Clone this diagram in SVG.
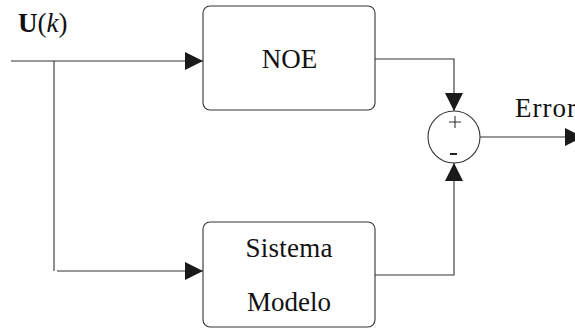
<svg xmlns="http://www.w3.org/2000/svg" width="575" height="328" viewBox="0 0 575 328">
<defs>
<marker id="ah" markerUnits="userSpaceOnUse" markerWidth="18" markerHeight="18" viewBox="0 0 18 18" refX="18" refY="9" orient="auto">
<path d="M0,0 L18,9 L0,18 Z" fill="#1a1a1a"/>
</marker>
<style>
.ln{fill:none;stroke:#333;stroke-width:1.1}
.bx{fill:#fff;stroke:#333;stroke-width:1.1}
.t{font-family:"Liberation Serif","DejaVu Serif",serif;font-size:27px;fill:#111}
</style>
</defs>
<rect width="575" height="328" fill="#fff"/>
<g id="connectors">
<path class="ln" d="M11,61 H203" marker-end="url(#ah)"/>
<path class="ln" d="M54,61 V271"/>
<path class="ln" d="M57,271 H203" marker-end="url(#ah)"/>
<path class="ln" d="M375,59 H454 V111" marker-end="url(#ah)"/>
<path class="ln" d="M375,275 H454 V163" marker-end="url(#ah)"/>
<path class="ln" d="M480,137 H583" marker-end="url(#ah)"/>
</g>
<g id="input-label">
<text class="t" x="18" y="32"><tspan font-weight="bold">U</tspan>(<tspan font-style="italic">k</tspan>)</text>
</g>
<g id="noe">
<rect class="bx" x="203" y="6" width="172" height="104" rx="7"/>
<text class="t" x="289.5" y="68" text-anchor="middle">NOE</text>
</g>
<g id="sistema">
<rect class="bx" x="203" y="222" width="172" height="105" rx="7"/>
<text class="t" x="289" y="257" text-anchor="middle" textLength="87">Sistema</text>
<text class="t" x="289" y="311" text-anchor="middle">Modelo</text>
</g>
<g id="sum">
<circle class="bx" cx="454" cy="137" r="26"/>
<path class="ln" d="M455,116 V128 M449,122 H461" stroke-width="0.8"/>
<path d="M450,154 H457" stroke="#222" stroke-width="2"/>
</g>
<g id="error-label">
<text class="t" x="515" y="117" textLength="61">Error</text>
</g>
</svg>
